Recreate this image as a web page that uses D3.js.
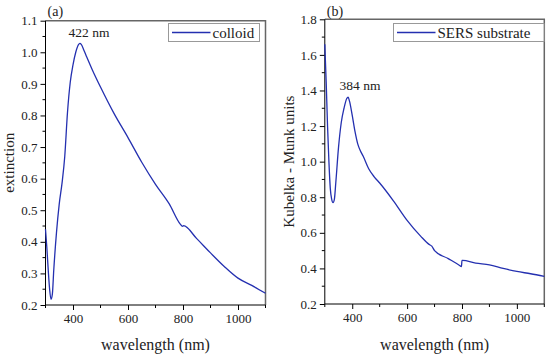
<!DOCTYPE html>
<html><head><meta charset="utf-8">
<script src="https://cdn.jsdelivr.net/npm/d3@7"></script>
<style>body{margin:0;background:#fff}svg{display:block}</style>
</head><body><svg id="c" width="550" height="358"></svg>
<script>
// Panel (a): colloid extinction
const colloidWavelength = [300,305,310,315,320,325,330,340,350,360,370,380,390,400,410,420,425,430,440,450,470,500,550,600,650,700,750,790,798,802,850,900,950,1000,1050,1100];
const colloidExtinction = [0.44,0.38,0.31,0.25,0.218,0.235,0.31,0.43,0.52,0.585,0.67,0.81,0.905,0.96,1.0,1.024,1.028,1.025,1.006,0.985,0.945,0.89,0.805,0.73,0.652,0.582,0.52,0.456,0.449,0.451,0.41,0.365,0.322,0.285,0.262,0.237];
// Panel (b): SERS substrate Kubelka-Munk
const sersWavelength = [300,305,310,315,320,325,330,335,340,350,360,370,380,385,390,400,410,420,430,440,460,480,500,550,600,650,680,690,700,750,790,798,800,802,850,900,950,1000,1050,1100];
const sersKM = [1.66,1.45,1.2,1.0,0.85,0.79,0.77,0.79,0.88,1.08,1.22,1.30,1.355,1.362,1.34,1.26,1.17,1.10,1.06,1.03,0.96,0.915,0.88,0.78,0.67,0.58,0.535,0.525,0.5,0.455,0.418,0.41,0.445,0.445,0.43,0.42,0.40,0.383,0.37,0.355];
const xTicks = [400,600,800,1000];
const yTicksA = [0.2,0.3,0.4,0.5,0.6,0.7,0.8,0.9,1.0,1.1];
const yTicksB = [0.2,0.4,0.6,0.8,1.0,1.2,1.4,1.6,1.8];

const FONT = "'Liberation Serif', 'DejaVu Serif', 'Noto Serif', serif";
const svg = d3.select("#c");
const lineColor = "#2430b0";

function txt(sel){ return sel.attr("font-family",FONT).attr("fill","#222"); }

function panel(o){
  const g = svg.append("g");
  const x = d3.scaleLinear().domain([300,1100]).range([o.x0,o.x1]);
  const y = d3.scaleLinear().domain(o.ydom).range([o.y1,o.y0]);
  g.append("path").attr("d",`M${o.x0},${o.y0}H${o.x1}V${o.y1}`).attr("fill","none").attr("stroke","#666").attr("stroke-width",1.5);
  const xminor = d3.range(300,1101,100).filter(v=>!xTicks.includes(v));
  g.selectAll(".xm").data(xminor).join("line").attr("x1",d=>x(d)).attr("x2",d=>x(d)).attr("y1",o.y1).attr("y2",o.y1+3).attr("stroke","#000");
  const yminor = d3.range(o.ydom[0]+o.ystep/2,o.ydom[1],o.ystep).map(v=>+v.toFixed(3));
  g.selectAll(".ym").data(yminor).join("line").attr("x1",o.x0-3).attr("x2",o.x0).attr("y1",d=>y(d)).attr("y2",d=>y(d)).attr("stroke","#000");
  const xa = g.append("g").attr("transform",`translate(0,${o.y1})`).call(d3.axisBottom(x).tickValues(xTicks).tickSize(5).tickPadding(4).tickFormat(d3.format("d")));
  const ya = g.append("g").attr("transform",`translate(${o.x0},0)`).call(d3.axisLeft(y).tickValues(o.yticks).tickSize(5).tickPadding(3).tickFormat(d3.format(".1f")));
  [xa,ya].forEach(a=>{a.attr("font-family",FONT).attr("font-size",13);a.selectAll("text").attr("fill","#222");a.select(".domain").attr("stroke","#000");a.selectAll(".tick line").attr("stroke","#000");});
  ya.select(".domain").attr("d",`M0,${o.y1}V${o.y0}`);
  xa.select(".domain").attr("d",`M${o.x0},0H${o.x1}`);
  const line = d3.line().x(d=>x(d[0])).y(d=>y(d[1])).curve(d3.curveMonotoneX);
  g.append("path").datum(o.wl.map((w,i)=>[w,o.v[i]])).attr("d",line).attr("fill","none").attr("stroke",lineColor).attr("stroke-width",1.3);
  txt(g.append("text")).attr("x",(o.x0+o.x1)/2).attr("y",350).attr("text-anchor","middle").attr("font-size",16).text("wavelength (nm)");
  txt(g.append("text")).attr("transform",`translate(${o.ylx},${(o.y0+o.y1)/2}) rotate(-90)`).attr("text-anchor","middle").attr("font-size",15).text(o.ylabel);
  txt(g.append("text")).attr("x",o.x0+2).attr("y",16).attr("font-size",14).text(o.tag);
  txt(g.append("text")).attr("x",o.peak[0]).attr("y",o.peak[1]).attr("text-anchor","middle").attr("font-size",13.5).text(o.peak[2]);
  g.append("rect").attr("x",o.leg[0]).attr("y",23.5).attr("width",o.leg[1]-o.leg[0]).attr("height",18).attr("fill","#fff").attr("stroke","#999").attr("stroke-width",1);
  g.append("line").attr("x1",o.leg[0]+3.5).attr("x2",o.leg[0]+42).attr("y1",32.5).attr("y2",32.5).attr("stroke",lineColor).attr("stroke-width",1.3);
  txt(g.append("text")).attr("x",o.leg[0]+44).attr("y",37.5).attr("font-size",15).text(o.legText);
}

panel({x0:45.5,x1:265.5,y0:20.7,y1:305,ydom:[0.2,1.1],ystep:0.1,yticks:yTicksA,wl:colloidWavelength,v:colloidExtinction,
  ylabel:"extinction",ylx:14,tag:"(a)",peak:[89,37,"422 nm"],leg:[168.5,259.5],legText:"colloid"});
panel({x0:324.8,x1:544.3,y0:19.3,y1:304,ydom:[0.2,1.8],ystep:0.2,yticks:yTicksB,wl:sersWavelength,v:sersKM,
  ylabel:"Kubelka - Munk units",ylx:294,tag:"(b)",peak:[360,90,"384 nm"],leg:[393.5,544],legText:"SERS substrate"});
</script></body></html>
